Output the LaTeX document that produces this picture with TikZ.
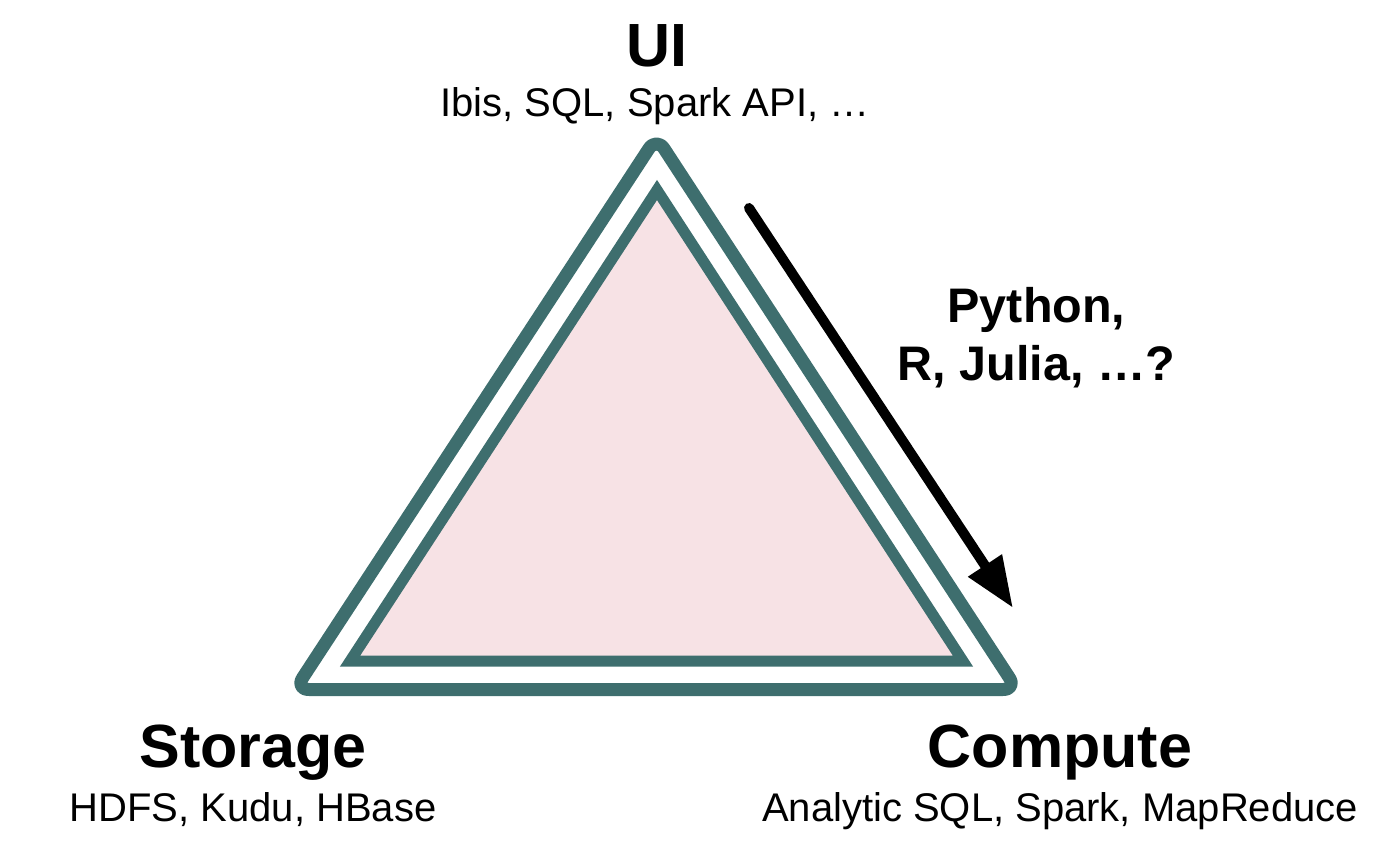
\documentclass[tikz,border=0pt]{standalone}
\usepackage{fontspec}
\setmainfont{Liberation Sans}
\usetikzlibrary{arrows.meta}
\definecolor{teal1}{RGB}{62,110,110}
\definecolor{pink1}{RGB}{247,226,229}
\tikzset{
  titletext/.style={anchor=base, inner sep=0pt, font=\fontsize{61}{70}\selectfont\bfseries},
  subtext/.style={anchor=base, inner sep=0pt, font=\fontsize{40}{48}\selectfont},
  langtext/.style={anchor=base, inner sep=0pt, font=\fontsize{48.5}{58}\selectfont\bfseries, align=center},
  outertri/.style={draw=teal1, line width=13pt, rounded corners=14pt, line join=round},
  innertri/.style={draw=teal1, fill=pink1, line width=11pt, line join=miter},
  bigarrow/.style={draw=black, line width=10pt, line cap=round, -{Triangle[length=51pt, width=38pt]}}
}
\begin{document}
\begin{tikzpicture}[x=1pt, y=-1pt]
\useasboundingbox (0,0) rectangle (1399,845);
% outer triangle
\coordinate (oA) at (656.5,137);
\coordinate (oB) at (295,689.5);
\coordinate (oC) at (1017,689.5);
\draw[outertri] (oA) -- (oB) -- (oC) -- cycle;
% inner triangle
\coordinate (iA) at (657,190);
\coordinate (iB) at (350,661.2);
\coordinate (iC) at (963,661.2);
\draw[innertri] (iA) -- (iB) -- (iC) -- cycle;
% arrow
\coordinate (arrS) at (749,208);
\coordinate (arrE) at (1013,608);
\draw[bigarrow] (arrS) -- (arrE);
% texts
\node[titletext] (ui) at (657,67) {UI};
\node[subtext] (uisub) at (655,117) {Ibis, SQL, Spark API, …};
\node[titletext] (storage) at (253,767) {Storage};
\node[subtext] (storagesub) at (253,821) {HDFS, Kudu, HBase};
\node[titletext] (compute) at (1060,767) {Compute};
\node[subtext] (computesub) at (1060,821) {Analytic SQL, Spark, MapReduce};
\node[langtext] (lang1) at (1036.5,322) {Python,};
\node[langtext] (lang2) at (1036.5,380) {R, Julia, …?};
\end{tikzpicture}
\end{document}
